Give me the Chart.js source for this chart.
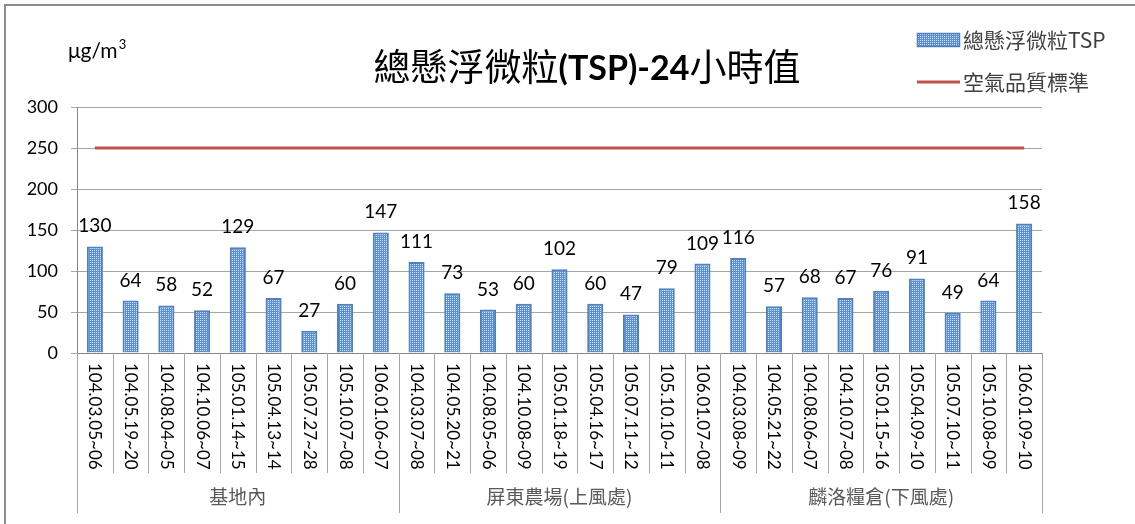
<!DOCTYPE html>
<html><head><meta charset="utf-8">
<script src="https://cdn.jsdelivr.net/npm/chart.js@4.4.1/dist/chart.umd.min.js"></script>
<style>html,body{margin:0;padding:0;background:#fff}canvas{display:block}</style>
</head><body>
<canvas id="c" width="1135" height="524"></canvas>
<script>
const groups = ['基地內', '屏東農場(上風處)', '麟洛糧倉(下風處)'];
const groupSizes = [9, 9, 9];
const categories = [
  '104.03.05~06','104.05.19~20','104.08.04~05','104.10.06~07','105.01.14~15','105.04.13~14','105.07.27~28','105.10.07~08','106.01.06~07',
  '104.03.07~08','104.05.20~21','104.08.05~06','104.10.08~09','105.01.18~19','105.04.16~17','105.07.11~12','105.10.10~11','106.01.07~08',
  '104.03.08~09','104.05.21~22','104.08.06~07','104.10.07~08','105.01.15~16','105.04.09~10','105.07.10~11','105.10.08~09','106.01.09~10'
];
const tspValues = [130, 64, 58, 52, 129, 67, 27, 60, 147,
                   111, 73, 53, 60, 102, 60, 47, 79, 109,
                   116, 57, 68, 67, 76, 91, 49, 64, 158];
const standardValues = [250,250,250,250,250,250,250,250,250,
                        250,250,250,250,250,250,250,250,250,
                        250,250,250,250,250,250,250,250,250];
const yTicks = [0, 50, 100, 150, 200, 250, 300];
const seriesNames = ['總懸浮微粒TSP', '空氣品質標準'];
const titleParts = [['總懸浮微粒', false], ['(TSP)-24', true], ['小時值', false]];
const unitText = 'μg/m';
const unitSup = '3';

const LATIN = 'Lato, "Noto Sans CJK TC", sans-serif';
const CJK = '"Noto Sans CJK TC", Lato, sans-serif';

function makePattern() {
  const p = document.createElement('canvas');
  p.width = 2; p.height = 2;
  const g = p.getContext('2d');
  g.fillStyle = '#5b8fd2'; g.fillRect(0, 0, 2, 2);
  g.fillStyle = '#d3e2f6'; g.fillRect(0, 0, 1, 1);
  return document.getElementById('c').getContext('2d').createPattern(p, 'repeat');
}
const barPattern = makePattern();

const decor = {
  id: 'decor',
  afterDatasetsDraw(chart) {
    const ctx = chart.ctx;
    const meta = chart.getDatasetMeta(1);
    ctx.save();
    ctx.font = '19px ' + LATIN;
    ctx.fillStyle = '#000';
    ctx.textAlign = 'center';
    ctx.textBaseline = 'alphabetic';
    meta.data.forEach((bar, i) => {
      ctx.fillText(String(tspValues[i]), bar.x, bar.y - 14);
    });
    ctx.restore();
  },
  afterDraw(chart) {
    const ctx = chart.ctx;
    const xs = chart.scales.x;
    const area = chart.chartArea;
    const half = (xs.getPixelForValue(1) - xs.getPixelForValue(0)) / 2;
    ctx.save();
    // frame
    ctx.strokeStyle = '#8c8c8c';
    ctx.lineWidth = 2;
    ctx.beginPath();
    ctx.moveTo(5, 524); ctx.lineTo(5, 5); ctx.lineTo(1135, 5);
    ctx.stroke();

    // category tick lines
    ctx.strokeStyle = '#a6a6a6';
    ctx.lineWidth = 1;
    const groupBounds = [0];
    groupSizes.reduce((a, s) => { groupBounds.push(a + s); return a + s; }, 0);
    for (let i = 0; i <= categories.length; i++) {
      const x = Math.round(xs.getPixelForValue(0) - half + i * 2 * half) + 0.5;
      const isGroup = groupBounds.includes(i);
      ctx.beginPath();
      ctx.moveTo(x, area.bottom);
      ctx.lineTo(x, isGroup ? 513 : 473);
      ctx.stroke();
    }
    // rotated category labels
    ctx.fillStyle = '#000';
    ctx.font = '17px ' + LATIN;
    ctx.textAlign = 'left';
    ctx.textBaseline = 'middle';
    categories.forEach((lab, i) => {
      const x = xs.getPixelForValue(i);
      ctx.save();
      ctx.translate(x, 363);
      ctx.rotate(Math.PI / 2);
      ctx.fillText(lab, 0, 0);
      ctx.restore();
    });
    // group labels
    ctx.fillStyle = '#595959';
    ctx.font = '19px ' + CJK;
    ctx.textAlign = 'center';
    let start = 0;
    groups.forEach((g, gi) => {
      const a = xs.getPixelForValue(start);
      const b = xs.getPixelForValue(start + groupSizes[gi] - 1);
      ctx.fillText(g, (a + b) / 2, 497);
      start += groupSizes[gi];
    });

    // title
    ctx.fillStyle = '#000';
    ctx.textBaseline = 'middle';
    ctx.textAlign = 'left';
    const fonts = titleParts.map(([t, b]) => b ? 'bold 34px ' + LATIN : '37px ' + CJK);
    let total = 0;
    titleParts.forEach(([t], i) => { ctx.font = fonts[i]; total += ctx.measureText(t).width; });
    let tx = 587 - total / 2;
    titleParts.forEach(([t], i) => {
      ctx.font = fonts[i];
      ctx.fillText(t, tx, i === 1 ? 69 : 67);
      tx += ctx.measureText(t).width;
    });

    // unit label
    ctx.font = '21px ' + LATIN;
    ctx.textBaseline = 'alphabetic';
    ctx.fillText(unitText, 68, 58);
    const uw = ctx.measureText(unitText).width;
    ctx.font = '13px ' + LATIN;
    ctx.fillText(unitSup, 68 + uw + 1, 49);

    // legend
    ctx.fillStyle = barPattern;
    ctx.fillRect(917, 33, 43, 14);
    ctx.strokeStyle = '#4f81bd';
    ctx.lineWidth = 1.5;
    ctx.strokeRect(917.5, 33.5, 42, 13);
    ctx.strokeStyle = '#c0504d';
    ctx.lineWidth = 3;
    ctx.beginPath(); ctx.moveTo(917, 82); ctx.lineTo(960, 82); ctx.stroke();
    ctx.fillStyle = '#404040';
    ctx.font = '21px ' + CJK;
    ctx.textBaseline = 'middle';
    ctx.fillText(seriesNames[0], 963, 40);
    ctx.fillText(seriesNames[1], 963, 82);
    ctx.restore();
  }
};

new Chart(document.getElementById('c'), {
  data: {
    labels: categories,
    datasets: [
      {
        type: 'line', label: seriesNames[1], data: standardValues,
        borderColor: '#c0504d', borderWidth: 3, pointRadius: 0, order: 0
      },
      {
        type: 'bar', label: seriesNames[0], data: tspValues,
        backgroundColor: barPattern, borderColor: '#4f81bd', borderWidth: 2,
        categoryPercentage: 1, barPercentage: 0.45, order: 1
      }
    ]
  },
  options: {
    responsive: false,
    animation: false,
    devicePixelRatio: 1,
    layout: { padding: { top: 107, right: 93, left: 0, bottom: 0 } },
    plugins: { legend: { display: false }, title: { display: false }, tooltip: { enabled: false } },
    scales: {
      x: {
        type: 'category', offset: true,
        grid: { display: false },
        ticks: { display: false },
        border: { display: true, color: '#868686', width: 1 },
        afterFit(s) { s.height = 171; }
      },
      y: {
        min: 0, max: 300,
        afterBuildTicks(s) { s.ticks = yTicks.map(v => ({ value: v })); },
        ticks: { font: { size: 18, family: LATIN }, color: '#000', padding: 13 },
        grid: { color: '#a6a6a6', tickLength: 6, lineWidth: 1 },
        border: { display: true, color: '#868686', width: 1 },
        afterFit(s) { s.width = 77; }
      }
    }
  },
  plugins: [decor]
});
</script>
</body></html>
